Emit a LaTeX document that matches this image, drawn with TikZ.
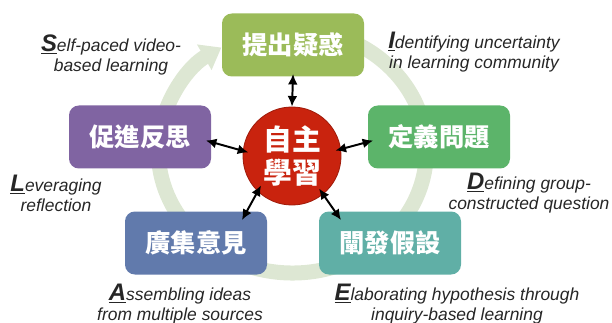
\documentclass[tikz,border=0pt]{standalone}
\usepackage{fontspec}
\usepackage{tikz}
\usetikzlibrary{arrows.meta}
\newfontfamily\engfont{Liberation Sans}
\newfontfamily\cjkfont{Noto Sans CJK TC}
\definecolor{ringgreen}{RGB}{221,231,211}
\definecolor{olivebox}{RGB}{155,187,89}
\definecolor{greenbox}{RGB}{92,180,106}
\definecolor{purplebox}{RGB}{128,100,162}
\definecolor{bluebox}{RGB}{97,122,172}
\definecolor{tealbox}{RGB}{96,175,166}
\definecolor{hubred}{RGB}{201,35,14}
% big underlined first letter of each caption
\newcommand{\initial}[1]{{\fontsize{17}{14.2}\selectfont\bfseries\underline{#1}}}

\begin{document}
\begin{tikzpicture}[
  stage/.style={rectangle, rounded corners=7pt, minimum width=3.55cm, minimum height=1.575cm,
                inner sep=0pt, text=white, font=\cjkfont\bfseries\fontsize{18}{20}\selectfont},
  hub/.style={circle, fill=hubred, draw=hubred!80!black, line width=0.6pt,
              minimum size=2.45cm, inner sep=0pt, align=center, text=white,
              font=\cjkfont\bfseries\fontsize{20.5}{23}\selectfont},
  note/.style={align=center, text=black!85, inner sep=0pt,
               font=\engfont\itshape\fontsize{12.4}{14.2}\selectfont},
  link/.style={{Latex[length=7.5pt,width=7pt]}-{Latex[length=7.5pt,width=7pt]}, line width=1.4pt},
  ring/.style={ringgreen, line width=0.375cm, -{Triangle[width=20pt,length=14pt]}}]
\useasboundingbox (0,0) rectangle (15.3,8.05);
% cycle behind the boxes
\coordinate (mid) at (7.31,4.275);
\draw[ring] (mid) ++(80:3.35 and 3.05) arc[start angle=80, end angle=-238, x radius=3.35, y radius=3.05];
% stages of the cycle
\node[stage, fill=olivebox]  (ident) at (7.325,6.925) {提出疑惑};
\node[stage, fill=greenbox]  (defn)  at (10.975,4.625) {定義問題};
\node[stage, fill=tealbox]   (elab)  at (9.75,1.975)  {闡發假設};
\node[stage, fill=bluebox]   (assem) at (4.9,1.975)   {廣集意見};
\node[stage, fill=purplebox] (lever) at (3.5,4.625)   {促進反思};
% centre
\node[hub] (self) at (7.3,4.15) {自主\\學習};
% links to the centre
\draw[link, shorten >=-2pt] (self.90) -- (ident.south);
\draw[link, shorten <=-4pt, shorten >=-4pt] (self.8) -- (defn.184);
\draw[link, shorten <=-4pt, shorten >=-4pt] (self.174) -- (lever.-4);
\draw[link, shorten <=-5pt] (self.226) -- ([shift={(1.15,-0.22)}]assem.north);
\draw[link, shorten <=-5pt] (self.-51) -- ([shift={(-1.225,-0.22)}]elab.north);
% captions
\node[note] (s) at (2.775,6.675) {\initial{S}elf-paced video-\\based learning};
\node[note] (i) at (11.85,6.75)  {\initial{I}dentifying uncertainty\\in learning community};
\node[note] (d) at (13.225,3.225) {\initial{D}efining group-\\constructed question};
\node[note] (e) at (11.425,0.45) {\initial{E}laborating hypothesis through\\inquiry-based learning};
\node[note] (a) at (4.5,0.45)    {\initial{A}ssembling ideas\\from multiple sources};
\node[note] (l) at (1.4,3.225)   {\initial{L}everaging\\reflection};
\end{tikzpicture}
\end{document}
